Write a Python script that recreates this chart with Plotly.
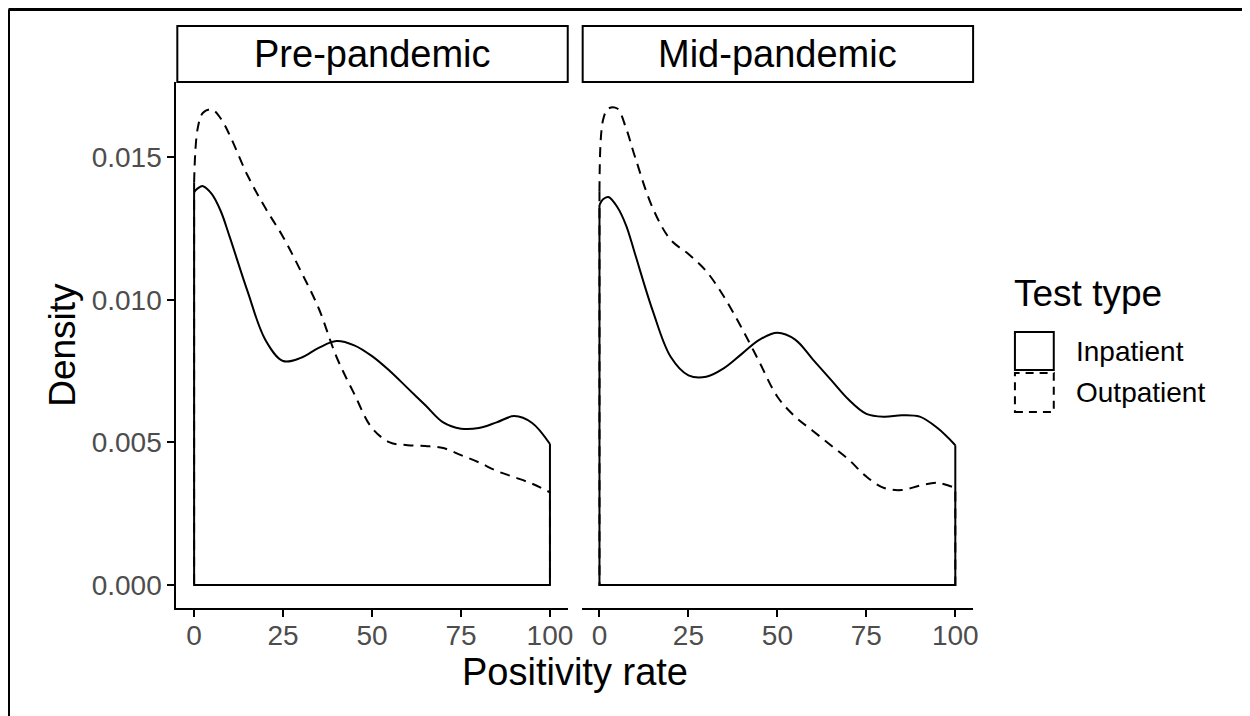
import plotly.graph_objects as go

# ---------------- data ----------------
positivity = [0, 1, 2.5, 5, 7.5, 10, 15, 20, 25, 30, 35, 40, 45, 50, 55, 60,
              65, 70, 75, 80, 85, 90, 95, 100]

pre_inpatient = [0.01377, 0.0139, 0.01398, 0.0137, 0.0131, 0.0122, 0.0103, 0.0086,
                 0.00785, 0.00796, 0.00831, 0.00855, 0.00840, 0.00802, 0.0075, 0.0069,
                 0.0063, 0.0057, 0.00548, 0.0055, 0.0057, 0.00592, 0.00568, 0.00494]

pre_outpatient = [0.0141, 0.0160, 0.01655, 0.01667, 0.01635, 0.01577, 0.01436, 0.01322,
                  0.0122, 0.0110, 0.0097, 0.0080, 0.0067, 0.0055, 0.0050, 0.0049,
                  0.00487, 0.0048, 0.00455, 0.0043, 0.0040, 0.00378, 0.00355, 0.00325]

mid_inpatient = [0.01332, 0.01352, 0.0136, 0.01325, 0.0126, 0.0116, 0.0096, 0.0080,
                 0.00735, 0.0073, 0.0076, 0.0081, 0.0086, 0.00884, 0.0086, 0.0079,
                 0.0072, 0.0065, 0.0060, 0.0059, 0.00595, 0.0059, 0.0055, 0.0049]

mid_outpatient = [0.0138, 0.0163, 0.0167, 0.0167, 0.0160, 0.0150, 0.0132, 0.0121,
                  0.0116, 0.0110, 0.0101, 0.0090, 0.0078, 0.0066, 0.0059, 0.0054,
                  0.0049, 0.0044, 0.0038, 0.0034, 0.00333, 0.00348, 0.00358, 0.0034]

panels = ["Pre-pandemic", "Mid-pandemic"]
test_types = ["Inpatient", "Outpatient"]
x_ticks = [0, 25, 50, 75, 100]
y_ticks = [0.000, 0.005, 0.010, 0.015]
y_tick_text = ["0.000", "0.005", "0.010", "0.015"]

series = {
    ("Pre-pandemic", "Inpatient"): pre_inpatient,
    ("Pre-pandemic", "Outpatient"): pre_outpatient,
    ("Mid-pandemic", "Inpatient"): mid_inpatient,
    ("Mid-pandemic", "Outpatient"): mid_outpatient,
}
dash_style = {"Inpatient": "solid", "Outpatient": "10px,7px"}

# ---------------- layout helpers ----------------
# The page body has an 8px margin, so the figure is made 8px smaller and
# page-pixel positions are converted with that offset.
OFF = 8
W, H = 1250 - OFF, 716 - OFF
FONT = "Liberation Sans, Arial, sans-serif"


def px(x):
    return (x - OFF) / W


def py(y):
    return 1 - (y - OFF) / H


x_domains = [(177, 570), (584, 977)]
y_dom = [py(608), py(82)]

fig = go.Figure()

for i, panel in enumerate(panels):
    xa = "x" if i == 0 else "x2"
    ya = "y" if i == 0 else "y2"
    for tt in ["Outpatient", "Inpatient"]:
        vals = series[(panel, tt)]
        # density curve
        fig.add_trace(go.Scatter(
            x=positivity, y=vals, mode="lines", xaxis=xa, yaxis=ya,
            line=dict(color="black", width=2, dash=dash_style[tt], shape="spline", smoothing=1.0),
            showlegend=False, hoverinfo="skip"))
        # closing sides + baseline of the density area
        fig.add_trace(go.Scatter(
            x=[positivity[0], positivity[0], positivity[-1], positivity[-1]],
            y=[vals[0], 0, 0, vals[-1]], mode="lines", xaxis=xa, yaxis=ya,
            line=dict(color="black", width=2, dash=dash_style[tt]),
            showlegend=False, hoverinfo="skip"))

axis_common = dict(showgrid=False, zeroline=False, showline=True, linecolor="black",
                   linewidth=2, ticks="outside", ticklen=7, tickwidth=1.5, tickcolor="black",
                   tickfont=dict(family=FONT, size=28, color="#4D4D4D"))

yr = [-0.000806, 0.01763]
xr = [-5, 105]
fig.update_layout(
    width=W, height=H, margin=dict(l=0, r=0, t=0, b=0),
    paper_bgcolor="white", plot_bgcolor="white", showlegend=False,
    xaxis=dict(domain=[px(x_domains[0][0]), px(x_domains[0][1])], range=xr,
               tickvals=x_ticks, anchor="y", ticklabelstandoff=-6, **axis_common),
    xaxis2=dict(domain=[px(x_domains[1][0]), px(x_domains[1][1])], range=xr,
                tickvals=x_ticks, anchor="y2", ticklabelstandoff=-6, **axis_common),
    yaxis=dict(domain=y_dom, range=yr, tickvals=y_ticks, ticktext=y_tick_text,
               anchor="x", **axis_common),
    yaxis2=dict(domain=y_dom, range=yr, anchor="x2", showgrid=False, zeroline=False,
                showline=False, showticklabels=False, ticks=""),
)

shapes = []
annotations = []

# outer frame (top and left edges)
shapes.append(dict(type="line", xref="paper", yref="paper", x0=px(8.5), x1=px(1250),
                   y0=py(9.5), y1=py(9.5), line=dict(color="black", width=3)))
shapes.append(dict(type="line", xref="paper", yref="paper", x0=px(8.5), x1=px(8.5),
                   y0=py(9.5), y1=py(716), line=dict(color="black", width=3)))

# facet strips
for (x0, x1), panel in zip(x_domains, panels):
    sx0 = x0 + 1
    shapes.append(dict(type="rect", xref="paper", yref="paper", x0=px(sx0), x1=px(x1),
                       y0=py(82), y1=py(26), line=dict(color="black", width=2),
                       fillcolor="white"))
    annotations.append(dict(text=panel, xref="paper", yref="paper",
                            x=px((sx0 + x1) / 2), y=py(54), showarrow=False,
                            xanchor="center", yanchor="middle",
                            font=dict(family=FONT, size=38, color="black")))

# axis titles
annotations.append(dict(text="Positivity rate", xref="paper", yref="paper",
                        x=px(577), y=py(672), showarrow=False, xanchor="center",
                        yanchor="middle", font=dict(family=FONT, size=38, color="black")))
annotations.append(dict(text="Density", xref="paper", yref="paper",
                        x=px(62), y=py(345), showarrow=False, textangle=-90,
                        xanchor="center", yanchor="middle",
                        font=dict(family=FONT, size=37, color="black")))

# legend
annotations.append(dict(text="Test type", xref="paper", yref="paper",
                        x=px(1016), y=py(293), showarrow=False, xanchor="left",
                        yanchor="middle", font=dict(family=FONT, size=37, color="black")))
key_boxes = [(332, 370), (373, 412)]
for (k0, k1), tt in zip(key_boxes, test_types):
    shapes.append(dict(type="rect", xref="paper", yref="paper", x0=px(1019), x1=px(1058),
                       y0=py(k1), y1=py(k0),
                       line=dict(color="black", width=2,
                                 dash="solid" if dash_style[tt] == "solid" else "8px,6px")))
    annotations.append(dict(text=tt, xref="paper", yref="paper", x=px(1078),
                            y=py((k0 + k1) / 2), showarrow=False, xanchor="left",
                            yanchor="middle", font=dict(family=FONT, size=28, color="black")))

fig.update_layout(shapes=shapes, annotations=annotations)
fig.write_html("out.html")
